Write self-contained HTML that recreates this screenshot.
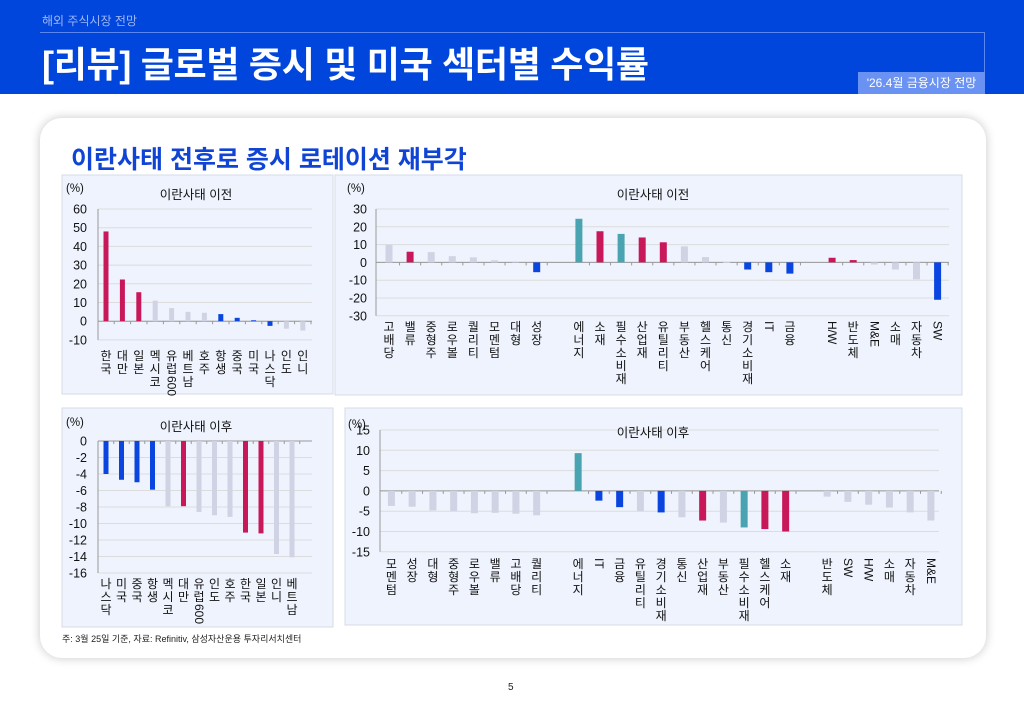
<!DOCTYPE html>
<html><head><meta charset="utf-8"><style>
*{margin:0;padding:0;box-sizing:border-box}
body{width:1024px;height:709px;background:#fff;position:relative;overflow:hidden;font-family:"Liberation Sans","Noto Sans CJK KR",sans-serif}
.hdr{position:absolute;left:0;top:0;width:1024px;height:94px;background:#0046dc}
.sub{position:absolute;left:42px;top:12px;color:#9db7f5;font-size:12px}
.line{position:absolute;left:40px;top:32px;width:945px;height:40px;border-top:1px solid #5a86ee;border-right:1px solid #5a86ee}
.title{position:absolute;left:42px;top:36px;color:#fff;font-size:36px;font-weight:bold;letter-spacing:-0.3px}
.tag{position:absolute;left:858px;top:72px;width:127px;height:22px;background:#6a92f2;color:#fff;font-size:12px;text-align:center;line-height:22px}
.card{position:absolute;left:40px;top:118px;width:946px;height:540px;border-radius:22px;background:#fff;box-shadow:0 0 10px rgba(0,0,0,.22)}
.ct{position:absolute;left:71px;top:140px;color:#1044d4;font-size:25px;font-weight:bold}
.fn{position:absolute;left:62px;top:632px;font-size:9px;color:#222}
.pg{position:absolute;left:508px;top:682px;font-size:10px;color:#222}
svg{position:absolute;left:0;top:0}
</style></head><body>
<div class="hdr"><div class="sub">해외 주식시장 전망</div><div class="line"></div>
<div class="title">[리뷰] 글로벌 증시 및 미국 섹터별 수익률</div><div class="tag">'26.4월 금융시장 전망</div></div>
<div class="card"></div>
<div class="ct">이란사태 전후로 증시 로테이션 재부각</div>
<svg id="s" width="1024" height="709" xmlns="http://www.w3.org/2000/svg"></svg>
<div class="fn">주: 3월 25일 기준, 자료: Refinitiv, 삼성자산운용 투자리서치센터</div>
<div class="pg">5</div>
<script>
var P='#c8185a',G='#d0d3e3',B='#0a45e0',T='#4aa3b0';
var s=document.getElementById('s'),h='';
function panel(x,y,w,hh){h+='<rect x="'+x+'" y="'+y+'" width="'+w+'" height="'+hh+'" fill="#eef3fd" stroke="#d6dbe8" stroke-width="1"/>';}
function txt(x,y,t,a,fs,extra){h+='<text x="'+x+'" y="'+y+'" font-size="'+(fs||12)+'" text-anchor="'+(a||'start')+'" fill="#111" '+(extra||'')+'>'+t+'</text>';}
function chart(c){
 var zeroY=c.yTop+(c.vTop)*c.ppu;
 for(var v=c.vTop;v>=c.vBot;v-=c.step){var yy=c.yTop+(c.vTop-v)*c.ppu;
  h+='<line x1="'+c.x0+'" x2="'+c.x1+'" y1="'+yy+'" y2="'+yy+'" stroke="#dcdcdc" stroke-width="1"/>';
  txt(c.ylx,yy+4.5,(v<0?'-':'')+Math.abs(v),'end',12.5);}
 h+='<line x1="'+c.x0+'" x2="'+c.x0+'" y1="'+c.yTop+'" y2="'+(c.yTop+(c.vTop-c.vBot)*c.ppu)+'" stroke="#999"/>';
 h+='<line x1="'+c.x0+'" x2="'+c.x1+'" y1="'+zeroY+'" y2="'+zeroY+'" stroke="#999"/>';
 c.bars.forEach(function(b,i){ if(!b)return; var cx=c.fx+i*c.sp;
  var y1=zeroY-b[1]*c.ppu, top=Math.min(y1,zeroY), hh=Math.abs(b[1]*c.ppu);
  h+='<rect x="'+(cx-c.bw/2)+'" y="'+top+'" width="'+c.bw+'" height="'+Math.max(hh,0.8)+'" fill="'+b[2]+'"/>';
  h+='<line x1="'+(cx+c.sp/2)+'" x2="'+(cx+c.sp/2)+'" y1="'+zeroY+'" y2="'+(zeroY+3)+'" stroke="#999"/>';
  var lab=b[0],yy=c.ly;
  if(/^[A-Z&\/]+$/.test(lab)){txt(cx-4,yy,lab,'start',12,'transform="rotate(90 '+(cx-4)+' '+yy+')"');return;}
  var m=lab.match(/^(.*?)(600)?$/); var ch=m[1].split('');
  ch.forEach(function(k,j){txt(cx,yy+10+j*13,k,'middle',12);});
  if(m[2]){var y2=yy+ch.length*13;txt(cx-4,y2,'600','start',12,'transform="rotate(90 '+(cx-4)+' '+y2+')"');}
 });
 txt(c.tx,c.ty,c.title,'middle',12.5);
 txt(c.px,c.py,'(%)','start',11.5);
}
panel(62,175,271,219);panel(335,175,627,220);panel(62,408,271,219);panel(345,408,617,217);
chart({x0:98,x1:312,yTop:209,vTop:60,vBot:-10,step:10,ppu:1.87,ylx:87,fx:106,sp:16.4,bw:5,ly:350,title:'이란사태 이전',tx:196,ty:199,px:66,py:192,
bars:[['한국',48,P],['대만',22.3,P],['일본',15.5,P],['멕시코',11,G],['유럽600',7,G],['베트남',5,G],['호주',4.5,G],['항생',3.8,B],['중국',1.8,B],['미국',0.5,B],['나스닥',-2.5,B],['인도',-4,G],['인니',-5,G]]});
chart({x0:376,x1:949,yTop:209,vTop:30,vBot:-30,step:10,ppu:1.78,ylx:367,fx:389,sp:21.1,bw:7,ly:321,title:'이란사태 이전',tx:653,ty:199,px:347,py:192,
bars:[['고배당',10,G],['밸류',6,P],['중형주',5.8,G],['로우볼',3.5,G],['퀄리티',2.8,G],['모멘텀',1.2,G],['대형',0.5,G],['성장',-5.5,B],null,
['에너지',24.5,T],['소재',17.5,P],['필수소비재',16,T],['산업재',14,P],['유틸리티',11.3,P],['부동산',9,G],['헬스케어',3,G],['통신',0.2,G],['경기소비재',-4,B],['IT',-5.5,B],['금융',-6.3,B],null,
['H/W',2.6,P],['반도체',1.3,P],['M&E',-1.2,G],['소매',-4,G],['자동차',-9.5,G],['SW',-21,B]]});
chart({x0:98,x1:312,yTop:441,vTop:0,vBot:-16,step:2,ppu:8.25,ylx:87,fx:106,sp:15.5,bw:5,ly:578,title:'이란사태 이후',tx:196,ty:431,px:66,py:426,
bars:[['나스닥',-4,B],['미국',-4.7,B],['중국',-5,B],['항생',-5.9,B],['멕시코',-7.9,G],['대만',-7.9,P],['유럽600',-8.6,G],['인도',-9,G],['호주',-9.2,G],['한국',-11.1,P],['일본',-11.2,P],['인니',-13.7,G],['베트남',-14.1,G]]});
chart({x0:380,x1:939,yTop:430,vTop:15,vBot:-15,step:5,ppu:4.06,ylx:370,fx:391.4,sp:20.75,bw:7,ly:558,title:'이란사태 이후',tx:653,ty:437,px:348,py:428,
bars:[['모멘텀',-3.7,G],['성장',-3.9,G],['대형',-4.8,G],['중형주',-5,G],['로우볼',-5.5,G],['밸류',-5.4,G],['고배당',-5.6,G],['퀄리티',-6,G],null,
['에너지',9.3,T],['IT',-2.4,B],['금융',-4,B],['유틸리티',-5,G],['경기소비재',-5.3,B],['통신',-6.5,G],['산업재',-7.3,P],['부동산',-7.8,G],['필수소비재',-9,T],['헬스케어',-9.4,P],['소재',-10,P],null,
['반도체',-1.4,G],['SW',-2.7,G],['H/W',-3.4,G],['소매',-4.1,G],['자동차',-5.3,G],['M&E',-7.3,G]]});
s.innerHTML=h;
</script>
</body></html>
